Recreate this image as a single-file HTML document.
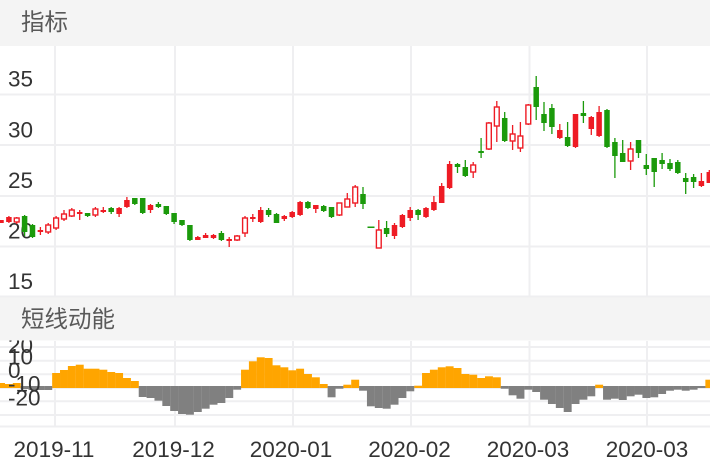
<!DOCTYPE html>
<html><head><meta charset="utf-8"><style>
html,body{margin:0;padding:0;background:#fff;}
svg{display:block;}
text{font-family:"Liberation Sans","Noto Sans CJK SC",sans-serif;}
</style></head><body>
<svg width="710" height="472" viewBox="0 0 710 472" xmlns="http://www.w3.org/2000/svg">
<rect x="0" y="0" width="710" height="472" fill="#fff"/>
<rect x="0" y="0" width="710" height="46" fill="#f4f4f4"/>
<text x="21" y="30" font-size="23.5" fill="#595959">指标</text>
<g stroke="#efeff1" stroke-width="2">
<path d="M55 46V297M175 46V297M293 46V297M411 46V297M529.5 46V297M647 46V297"/>
<path d="M0 94.5H710M0 145H710M0 196H710M0 246.5H710M0 296.5H710"/>
</g>
<g font-size="22.5" fill="#333">
<text x="8" y="86.7">35</text>
<text x="8" y="137.3">30</text>
<text x="8" y="187.9">25</text>
<text x="8" y="238.5">20</text>
<text x="8" y="289.1">15</text>
</g>
<g fill="#1b9a0b" stroke="#1b9a0b" stroke-width="1.3">
<path d="M24.6 215V236M32.5 224V238M87.6 213V217M111.2 207V214M134.8 198V205M142.7 198V214M158.4 202V208M166.3 206V215M174.1 213V224M182 220V226M189.9 225V241M221.4 231V241M268.6 208V217M276.5 213V223M307.9 201V209M323.7 205V212M331.5 207V218M363 187V209M386.6 221V237M418.1 209V220M457.5 163V173M465.3 160V177M481.1 138V158M504.7 112V142M536.2 76V120M544 102V131M551.9 104V134M567.6 122V147M583.4 101V123M607 109V148M614.9 138V178M622.7 140V162M638.5 140V158M646.3 154V175M654.2 158V187M662.1 153V169M670 159V171M677.8 160V174M685.7 173V194M693.6 174V188"/>
<g stroke="none">
<rect x="21.85" y="216" width="5.5" height="16"/>
<rect x="29.75" y="225" width="5.5" height="12"/>
<rect x="84.85" y="213" width="5.5" height="3"/>
<rect x="108.45" y="208" width="5.5" height="4"/>
<rect x="132.05" y="198" width="5.5" height="6"/>
<rect x="139.95" y="198" width="5.5" height="15"/>
<rect x="155.65" y="204" width="5.5" height="3"/>
<rect x="163.55" y="206" width="5.5" height="8"/>
<rect x="171.35" y="213" width="5.5" height="9"/>
<rect x="179.25" y="220" width="5.5" height="5"/>
<rect x="187.15" y="225" width="5.5" height="15"/>
<rect x="218.65" y="233" width="5.5" height="7"/>
<rect x="265.85" y="210" width="5.5" height="5"/>
<rect x="273.75" y="214" width="5.5" height="9"/>
<rect x="305.15" y="202" width="5.5" height="6"/>
<rect x="320.95" y="206" width="5.5" height="5"/>
<rect x="328.75" y="207" width="5.5" height="10"/>
<rect x="360.25" y="194" width="5.5" height="10"/>
<rect x="367.5" y="226.5" width="7" height="1.5"/>
<rect x="383.85" y="228" width="5.5" height="6"/>
<rect x="415.35" y="210" width="5.5" height="5"/>
<rect x="454.75" y="164" width="5.5" height="3"/>
<rect x="462.55" y="167" width="5.5" height="9"/>
<rect x="478.35" y="151" width="5.5" height="2"/>
<rect x="501.95" y="118" width="5.5" height="23"/>
<rect x="533.45" y="87" width="5.5" height="20"/>
<rect x="541.25" y="114" width="5.5" height="9"/>
<rect x="549.15" y="108" width="5.5" height="19"/>
<rect x="564.85" y="137" width="5.5" height="9"/>
<rect x="580.65" y="113" width="5.5" height="3"/>
<rect x="604.25" y="110" width="5.5" height="37"/>
<rect x="612.15" y="142" width="5.5" height="14"/>
<rect x="619.95" y="153" width="5.5" height="9"/>
<rect x="635.75" y="140" width="5.5" height="13"/>
<rect x="643.55" y="165" width="5.5" height="4"/>
<rect x="651.45" y="158" width="5.5" height="14"/>
<rect x="659.35" y="160" width="5.5" height="4"/>
<rect x="667.25" y="163" width="5.5" height="6"/>
<rect x="675.05" y="162" width="5.5" height="11"/>
<rect x="682.95" y="178" width="5.5" height="4"/>
<rect x="690.85" y="177" width="5.5" height="5"/>
</g>
</g>
<g fill="#ee1b24" stroke="#ee1b24" stroke-width="1.3">
<path d="M1 220V223M8.9 216V223M40.4 227V235M79.7 210V220M103.3 207V213M119.1 207V217M126.9 197V208M150.5 204V213M197.8 236V240M205.6 233V238M213.5 234V239M229.2 237V247M252.8 214V222M260.7 207V223M284.3 215V221M292.2 211V218M300.1 201V216M315.8 205V213M394.5 223V239M402.4 214V228M410.2 207V221M426 207V218M433.9 196V211M441.7 183V203M449.6 161V189M559.8 124V139M575.5 114V148M591.3 116V135M599.1 106V137M701.4 173V187M709.3 170V183"/>
<path d="M16.7 217V224M48.2 223V234M56.1 216V230M64 210V221M71.8 208V217M95.4 207V217M237.1 235V241M245 216V237M339.4 203V216M347.3 193V207M355.2 185V207M378.8 220V248M473.2 162V178M488.9 122V150M496.8 101V142M512.6 125V150M520.4 122V152M528.3 104V125M630.6 142V170"/>
<g stroke="none">
<rect x="-1.75" y="220" width="5.5" height="3"/>
<rect x="6.15" y="217" width="5.5" height="5"/>
<rect x="37.65" y="230" width="5.5" height="2"/>
<rect x="76.95" y="212" width="5.5" height="2"/>
<rect x="100.55" y="210" width="5.5" height="2"/>
<rect x="116.35" y="208" width="5.5" height="6"/>
<rect x="124.15" y="200" width="5.5" height="7"/>
<rect x="147.75" y="205" width="5.5" height="5"/>
<rect x="195.05" y="237" width="5.5" height="3"/>
<rect x="202.85" y="235" width="5.5" height="3"/>
<rect x="210.75" y="235" width="5.5" height="3"/>
<rect x="226.45" y="239" width="5.5" height="2"/>
<rect x="250.05" y="217" width="5.5" height="2"/>
<rect x="257.95" y="210" width="5.5" height="12"/>
<rect x="281.55" y="216" width="5.5" height="3"/>
<rect x="289.45" y="212" width="5.5" height="5"/>
<rect x="297.35" y="202" width="5.5" height="13"/>
<rect x="313.05" y="205" width="5.5" height="4"/>
<rect x="391.75" y="225" width="5.5" height="11"/>
<rect x="399.65" y="215" width="5.5" height="12"/>
<rect x="407.45" y="210" width="5.5" height="8"/>
<rect x="423.25" y="208" width="5.5" height="9"/>
<rect x="431.15" y="202" width="5.5" height="8"/>
<rect x="438.95" y="186" width="5.5" height="17"/>
<rect x="446.85" y="164" width="5.5" height="24"/>
<rect x="557.05" y="130" width="5.5" height="8"/>
<rect x="572.75" y="114" width="5.5" height="33"/>
<rect x="588.55" y="117" width="5.5" height="12"/>
<rect x="596.35" y="112" width="5.5" height="24"/>
<rect x="698.65" y="181" width="5.5" height="5"/>
<rect x="706.55" y="172" width="5.5" height="11"/>
</g>
<g fill="#fff" stroke-width="1.4">
<rect x="14.3" y="218" width="4.8" height="4"/>
<rect x="45.8" y="225" width="4.8" height="7"/>
<rect x="53.7" y="218" width="4.8" height="10"/>
<rect x="61.6" y="214" width="4.8" height="5"/>
<rect x="69.4" y="210" width="4.8" height="6"/>
<rect x="93" y="209" width="4.8" height="6"/>
<rect x="234.7" y="236" width="4.8" height="4"/>
<rect x="242.6" y="218" width="4.8" height="15"/>
<rect x="337" y="203" width="4.8" height="12"/>
<rect x="344.9" y="199" width="4.8" height="8"/>
<rect x="352.8" y="187" width="4.8" height="16"/>
<rect x="376.4" y="230" width="4.8" height="18"/>
<rect x="470.8" y="165" width="4.8" height="7"/>
<rect x="486.5" y="123" width="4.8" height="26"/>
<rect x="494.4" y="107" width="4.8" height="19"/>
<rect x="510.2" y="134" width="4.8" height="7"/>
<rect x="518" y="136" width="4.8" height="12"/>
<rect x="525.9" y="105" width="4.8" height="19"/>
<rect x="628.2" y="149" width="4.8" height="12"/>
</g>
</g>
<g stroke="#efeff1" stroke-width="2">
<path d="M55 341V427M175 341V427M293 341V427M411 341V427M529.5 341V427M647 341V427"/>
<path d="M0 347H710M0 360.7H710M0 374.3H710M0 388H710M0 401.3H710M0 415H710M0 426.5H710"/>
</g>
<g fill="#ffa500">
<rect x="-2.94" y="383" width="7.95" height="5"/>
<rect x="4.93" y="384" width="7.95" height="4"/>
<rect x="12.8" y="383" width="7.95" height="5"/>
<rect x="52.15" y="373" width="7.95" height="15"/>
<rect x="60.02" y="370" width="7.95" height="18"/>
<rect x="67.89" y="366" width="7.95" height="22"/>
<rect x="75.76" y="364.7" width="7.95" height="23.3"/>
<rect x="83.63" y="368.7" width="7.95" height="19.3"/>
<rect x="91.5" y="368.7" width="7.95" height="19.3"/>
<rect x="99.37" y="369.7" width="7.95" height="18.3"/>
<rect x="107.24" y="372" width="7.95" height="16"/>
<rect x="115.11" y="373" width="7.95" height="15"/>
<rect x="122.98" y="378" width="7.95" height="10"/>
<rect x="130.85" y="381" width="7.95" height="7"/>
<rect x="241.03" y="369.7" width="7.95" height="18.3"/>
<rect x="248.9" y="361.3" width="7.95" height="26.7"/>
<rect x="256.77" y="357.3" width="7.95" height="30.7"/>
<rect x="264.64" y="358" width="7.95" height="30"/>
<rect x="272.51" y="365.3" width="7.95" height="22.7"/>
<rect x="280.38" y="367.3" width="7.95" height="20.7"/>
<rect x="288.25" y="370.3" width="7.95" height="17.7"/>
<rect x="296.12" y="368.7" width="7.95" height="19.3"/>
<rect x="303.99" y="374" width="7.95" height="14"/>
<rect x="311.86" y="377.3" width="7.95" height="10.7"/>
<rect x="319.73" y="384" width="7.95" height="4"/>
<rect x="343.34" y="384.7" width="7.95" height="3.3"/>
<rect x="351.21" y="379.7" width="7.95" height="8.3"/>
<rect x="414.17" y="385.7" width="7.95" height="2.3"/>
<rect x="422.04" y="373" width="7.95" height="15"/>
<rect x="429.91" y="369.7" width="7.95" height="18.3"/>
<rect x="437.78" y="367.3" width="7.95" height="20.7"/>
<rect x="445.65" y="366.3" width="7.95" height="21.7"/>
<rect x="453.52" y="368" width="7.95" height="20"/>
<rect x="461.39" y="374" width="7.95" height="14"/>
<rect x="469.26" y="374.7" width="7.95" height="13.3"/>
<rect x="477.13" y="378" width="7.95" height="10"/>
<rect x="485" y="376.3" width="7.95" height="11.7"/>
<rect x="492.87" y="377.3" width="7.95" height="10.7"/>
<rect x="595.18" y="384.7" width="7.95" height="3.3"/>
<rect x="705.36" y="379.7" width="7.95" height="8.3"/>
</g>
<g fill="#808080">
<rect x="20.67" y="386" width="7.95" height="3"/>
<rect x="28.54" y="386" width="7.95" height="4"/>
<rect x="36.41" y="386" width="7.95" height="4"/>
<rect x="44.28" y="386" width="7.95" height="4"/>
<rect x="138.72" y="386" width="7.95" height="11"/>
<rect x="146.59" y="386" width="7.95" height="12"/>
<rect x="154.46" y="386" width="7.95" height="14.7"/>
<rect x="162.33" y="386" width="7.95" height="20"/>
<rect x="170.2" y="386" width="7.95" height="25"/>
<rect x="178.07" y="386" width="7.95" height="28"/>
<rect x="185.94" y="386" width="7.95" height="28.7"/>
<rect x="193.81" y="386" width="7.95" height="26"/>
<rect x="201.68" y="386" width="7.95" height="22.7"/>
<rect x="209.55" y="386" width="7.95" height="18.7"/>
<rect x="217.42" y="386" width="7.95" height="17"/>
<rect x="225.29" y="386" width="7.95" height="12"/>
<rect x="233.16" y="386" width="7.95" height="3.7"/>
<rect x="327.6" y="386" width="7.95" height="11.3"/>
<rect x="335.47" y="386" width="7.95" height="2.7"/>
<rect x="359.08" y="386" width="7.95" height="4.7"/>
<rect x="366.95" y="386" width="7.95" height="20.3"/>
<rect x="374.82" y="386" width="7.95" height="22"/>
<rect x="382.69" y="386" width="7.95" height="22.7"/>
<rect x="390.56" y="386" width="7.95" height="18.7"/>
<rect x="398.43" y="386" width="7.95" height="12"/>
<rect x="406.3" y="386" width="7.95" height="5.3"/>
<rect x="500.74" y="386" width="7.95" height="2.7"/>
<rect x="508.61" y="386" width="7.95" height="9.3"/>
<rect x="516.48" y="386" width="7.95" height="12.7"/>
<rect x="524.35" y="386" width="7.95" height="3.7"/>
<rect x="532.22" y="386" width="7.95" height="6"/>
<rect x="540.09" y="386" width="7.95" height="13.7"/>
<rect x="547.96" y="386" width="7.95" height="18"/>
<rect x="555.83" y="386" width="7.95" height="22"/>
<rect x="563.7" y="386" width="7.95" height="26"/>
<rect x="571.57" y="386" width="7.95" height="18"/>
<rect x="579.44" y="386" width="7.95" height="13.7"/>
<rect x="587.31" y="386" width="7.95" height="10.3"/>
<rect x="603.05" y="386" width="7.95" height="13.7"/>
<rect x="610.92" y="386" width="7.95" height="12.7"/>
<rect x="618.79" y="386" width="7.95" height="14"/>
<rect x="626.66" y="386" width="7.95" height="10.3"/>
<rect x="634.53" y="386" width="7.95" height="8.7"/>
<rect x="642.4" y="386" width="7.95" height="12"/>
<rect x="650.27" y="386" width="7.95" height="11.3"/>
<rect x="658.14" y="386" width="7.95" height="8"/>
<rect x="666.01" y="386" width="7.95" height="4.7"/>
<rect x="673.88" y="386" width="7.95" height="3.7"/>
<rect x="681.75" y="386" width="7.95" height="4.7"/>
<rect x="689.62" y="386" width="7.95" height="3.7"/>
<rect x="697.49" y="386" width="7.95" height="2"/>
</g>
<g font-size="22.5" fill="#333">
<text x="8" y="353">20</text>
<text x="8" y="364.7">10</text>
<text x="8" y="378">0</text>
<text x="8" y="391.3">-10</text>
<text x="8" y="405.3">-20</text>
</g>
<rect x="0" y="297.5" width="710" height="43" fill="#f4f4f4"/>
<text x="21" y="327" font-size="23.5" fill="#595959">短线动能</text>
<g font-size="22.5" fill="#333" text-anchor="middle">
<text x="54" y="457">2019-11</text>
<text x="173.5" y="457">2019-12</text>
<text x="291" y="457">2020-01</text>
<text x="409.5" y="457">2020-02</text>
<text x="528" y="457">2020-03</text>
<text x="647" y="457">2020-03</text>
</g>
</svg>
</body></html>
